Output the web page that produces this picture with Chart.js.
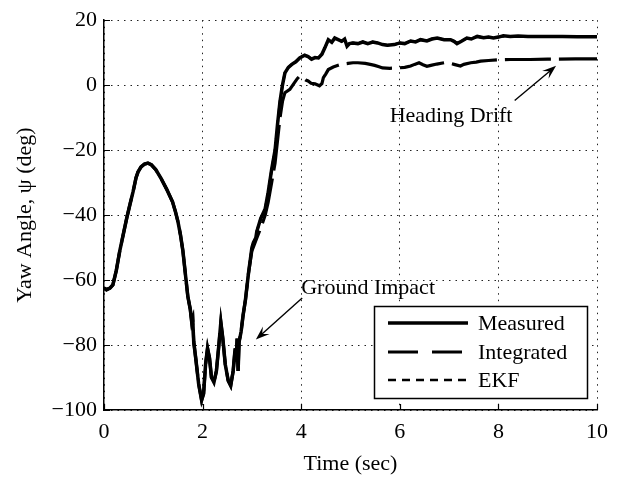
<!DOCTYPE html>
<html><head><meta charset="utf-8">
<script src="https://cdn.jsdelivr.net/npm/chart.js@4"></script>
<style>html,body{margin:0;padding:0;background:#fff}canvas{display:block}</style>
</head><body>
<canvas id="c" width="617" height="483"></canvas>
<script>
// ---- data ----
const timeMeasured = [0,0.05,0.12,0.18,0.25,0.32,0.39,0.46,0.53,0.59,0.65,0.69,0.75,0.82,0.89,0.96,1.05,1.16,1.27,1.39,1.45,1.5,1.55,1.6,1.65,1.7,1.75,1.78,1.8,1.82,1.86,1.92,1.98,2.02,2.06,2.1,2.14,2.18,2.23,2.28,2.33,2.37,2.41,2.46,2.52,2.57,2.62,2.66,2.68,2.7,2.72,2.74,2.78,2.82,2.87,2.93,3.0,3.03,3.08,3.1,3.18,3.27,3.33,3.4,3.47,3.52,3.57,3.62,3.67,3.74,3.81,3.89,3.97,4.07,4.14,4.21,4.28,4.35,4.42,4.48,4.55,4.62,4.68,4.75,4.82,4.88,4.93,4.98,5.05,5.15,5.25,5.35,5.45,5.55,5.65,5.75,5.89,6.0,6.1,6.22,6.32,6.42,6.55,6.65,6.76,6.9,7.03,7.1,7.16,7.25,7.36,7.45,7.57,7.7,7.8,7.9,8.0,8.1,8.24,8.4,8.6,8.8,9.0,9.3,9.6,10];
const yawMeasured = [-62.5,-63,-62.5,-61.5,-57,-51,-46,-41,-36.5,-32.8,-28.5,-26.7,-25.2,-24.3,-24,-24.5,-26,-28.8,-32,-35.9,-39,-42,-46,-51,-58,-65,-69,-73,-72,-79,-84,-92,-97,-95,-86,-81,-84,-90,-91.5,-88,-80,-73,-78,-86,-91,-92.5,-88,-81,-85,-78,-88,-79,-76,-71,-66,-58,-50,-48.5,-47,-45,-41,-38,-33,-26,-20,-12,-5,0,3.8,5.5,6.4,7.2,8.4,9.2,8.8,8,8.5,8.4,9.5,11.5,14,13.2,14.5,14,13.5,14.2,12,12.8,13,12.8,13.3,12.8,13.3,13,12.5,12.3,12.5,13,12.8,13.6,13.3,14,13.6,14.2,14.5,14,14,13.5,12.8,13.5,14.5,14.2,15,14.6,14.8,14.5,14.8,15.2,15,15.1,15,15,15,15,14.9,14.9];

const timeIntegrated = [0,0.05,0.12,0.18,0.25,0.32,0.39,0.46,0.53,0.59,0.65,0.69,0.75,0.82,0.89,0.96,1.05,1.16,1.27,1.39,1.45,1.5,1.55,1.6,1.65,1.7,1.75,1.78,1.8,1.82,1.86,1.92,1.98,2.02,2.06,2.1,2.14,2.18,2.23,2.28,2.33,2.37,2.41,2.46,2.52,2.57,2.62,2.66,2.68,2.7,2.72,2.74,2.78,2.82,2.87,2.93,3.0,3.05,3.1,3.18,3.27,3.33,3.4,3.47,3.52,3.57,3.62,3.67,3.77,3.85,3.92,3.97,4.03,4.09,4.14,4.2,4.28,4.37,4.42,4.45,4.5,4.55,4.65,4.75,4.81,4.95,5.05,5.15,5.3,5.4,5.49,5.58,5.65,5.8,5.96,6.1,6.22,6.3,6.39,6.47,6.55,6.63,6.75,6.9,7.0,7.1,7.23,7.3,7.44,7.55,7.64,7.8,8.0,8.24,8.64,9.0,9.56,10];
const yawIntegrated = [-62.5,-63,-62.5,-61.5,-57,-51,-46,-41,-36.5,-32.8,-28.5,-26.7,-25.2,-24.3,-24,-24.5,-26,-28.8,-32,-35.9,-39,-42,-46,-51,-58,-65,-69,-73,-72,-79,-84,-92,-97,-95,-86,-81,-84,-90,-91.5,-88,-80,-73,-78,-86,-91,-92.5,-88,-81,-85,-78,-88,-79,-76,-71,-66,-58,-51,-49,-47,-44,-40,-36,-30,-24,-17,-10,-5,-2.3,-1.3,0.5,2,2.8,2.2,1.6,1.3,0.6,0.4,-0.2,0.5,2.3,3.5,4.8,5.6,6.1,6.4,6.7,6.9,6.9,6.7,6.4,6.1,5.7,5.3,5.2,5.3,5.5,5.9,6.4,6.9,6.3,5.8,6.1,6.5,6.9,6.8,6.4,5.9,6.4,6.9,7.1,7.4,7.6,7.8,7.9,7.9,8.0,8.1,8.1];

const timeEKF = [0,0.05,0.12,0.18,0.25,0.32,0.39,0.46,0.53,0.59,0.65,0.69,0.75,0.82,0.89,0.96,1.05,1.16,1.27,1.39,1.45,1.5,1.55,1.6,1.65,1.7,1.75,1.78,1.8,1.82,1.86,1.92,1.98,2.02,2.06,2.1,2.14,2.18,2.23,2.28,2.33,2.37,2.41,2.46,2.52,2.57,2.62,2.66,2.68,2.7,2.72,2.74,2.78,2.82,2.87,2.93,3.0,3.03,3.08,3.1,3.18,3.27,3.33,3.4,3.47,3.52,3.57,3.62,3.67,3.74,3.81,3.89,3.97,4.07,4.14,4.21,4.28,4.35,4.42,4.48,4.55,4.62,4.68,4.75,4.82,4.88,4.93,4.98,5.05,5.15,5.25,5.35,5.45,5.55,5.65,5.75,5.89,6.0,6.1,6.22,6.32,6.42,6.55,6.65,6.76,6.9,7.03,7.1,7.16,7.25,7.36,7.45,7.57,7.7,7.8,7.9,8.0,8.1,8.24,8.4,8.6,8.8,9.0,9.3,9.6,10];
const yawEKF = [-62.3,-62.8,-62.4,-61.4,-57,-51,-46,-41,-36.5,-32.8,-28.5,-26.7,-25.2,-24.3,-24,-24.5,-26,-28.8,-32,-35.9,-39,-42,-46,-51,-58,-65,-69,-73,-72,-79,-84,-92,-96.5,-95,-86,-81.5,-84,-90,-91.2,-88,-80,-73.5,-78,-86,-91,-92,-88,-81,-84,-78.5,-86,-79,-76,-71,-66,-58,-50,-48.5,-47,-45,-41,-38,-33,-26,-20,-12,-5,0,3.8,5.5,6.4,7.2,8.4,9.2,8.8,8,8.5,8.4,9.5,11.5,13.8,13.2,14.3,14,13.5,14,12.3,12.8,13,12.8,13.3,12.8,13.3,13,12.5,12.3,12.5,13,12.8,13.6,13.3,14,13.6,14.2,14.5,14,14,13.5,13,13.5,14.5,14.2,15,14.6,14.8,14.5,14.8,15.1,15,15.1,15,15,15,15,14.9,14.9];

const xTicks = [0, 2, 4, 6, 8, 10];
const yTicks = [-100, -80, -60, -40, -20, 0, 20];
const seriesNames = ['Measured', 'Integrated', 'EKF'];
const xTitle = 'Time (sec)';
const yTitle = 'Yaw Angle, \u03C8 (deg)';
// annotations: [text, text x, text y, arrow tail x, tail y, arrow tip x, tip y] in data units
const annHeading = ['Heading Drift', 7.04, -9.6, 8.33, -4.7, 9.17, 5.95];
const annGround = ['Ground Impact', 4.0, -62.4, 4.02, -65.5, 3.08, -78.3];

const FONT = '"Liberation Serif", "Times New Roman", serif';
const pts = (xs, ys) => xs.map((x, i) => ({x: x, y: ys[i]}));
const fmt = v => (v < 0 ? '\u2212' + Math.abs(v) : String(v));

const insideTicks = {
  id: 'insideTicks',
  afterDraw(chart) {
    const {ctx, chartArea: a, scales: {x, y}} = chart;
    ctx.save();
    ctx.strokeStyle = '#000';
    ctx.lineWidth = 1.2;
    ctx.beginPath();
    xTicks.forEach(v => { const px = Math.round(x.getPixelForValue(v)) + 0.5; ctx.moveTo(px, a.bottom); ctx.lineTo(px, a.bottom - 6); });
    yTicks.forEach(v => { const py = Math.round(y.getPixelForValue(v)) + 0.5; ctx.moveTo(a.left, py); ctx.lineTo(a.left + 6, py); });
    ctx.stroke();
    ctx.restore();
  }
};

function arrow(ctx, x1, y1, x2, y2) {
  const ang = Math.atan2(y2 - y1, x2 - x1);
  const L = 14, W = 5;
  ctx.beginPath();
  ctx.moveTo(x1, y1);
  ctx.lineTo(x2 - Math.cos(ang) * 6, y2 - Math.sin(ang) * 6);
  ctx.stroke();
  ctx.beginPath();
  ctx.moveTo(x2, y2);
  ctx.lineTo(x2 - L * Math.cos(ang) + W * Math.sin(ang), y2 - L * Math.sin(ang) - W * Math.cos(ang));
  ctx.lineTo(x2 - 0.6 * L * Math.cos(ang), y2 - 0.6 * L * Math.sin(ang));
  ctx.lineTo(x2 - L * Math.cos(ang) - W * Math.sin(ang), y2 - L * Math.sin(ang) + W * Math.cos(ang));
  ctx.closePath();
  ctx.fill();
}

const annotations = {
  id: 'annotations',
  afterDraw(chart) {
    const {ctx, scales: {x, y}} = chart;
    ctx.save();
    ctx.fillStyle = '#000';
    ctx.strokeStyle = '#000';
    ctx.lineWidth = 1.4;
    ctx.font = '22px ' + FONT;
    ctx.textBaseline = 'middle';
    ctx.textAlign = 'center';
    ctx.fillText(annHeading[0], x.getPixelForValue(annHeading[1]), y.getPixelForValue(annHeading[2]));
    arrow(ctx, x.getPixelForValue(annHeading[3]), y.getPixelForValue(annHeading[4]), x.getPixelForValue(annHeading[5]), y.getPixelForValue(annHeading[6]));
    ctx.textAlign = 'left';
    ctx.fillText(annGround[0], x.getPixelForValue(annGround[1]), y.getPixelForValue(annGround[2]));
    arrow(ctx, x.getPixelForValue(annGround[3]), y.getPixelForValue(annGround[4]), x.getPixelForValue(annGround[5]), y.getPixelForValue(annGround[6]));
    ctx.restore();
  }
};

const boxLegend = {
  id: 'boxLegend',
  afterDraw(chart) {
    const {ctx} = chart;
    const bx = 374, by = 306, bw = 213, bh = 92;
    ctx.save();
    ctx.fillStyle = '#fff';
    ctx.fillRect(bx, by, bw, bh);
    ctx.strokeStyle = '#000';
    ctx.lineWidth = 1.5;
    ctx.strokeRect(bx + 0.5, by + 0.5, bw, bh);
    const rows = [323, 352, 380];
    chart.data.datasets.forEach((ds, i) => {
      ctx.setLineDash(ds.legendDash);
      ctx.lineWidth = ds.borderWidth;
      ctx.beginPath();
      ctx.moveTo(388, rows[i]);
      ctx.lineTo(468, rows[i]);
      ctx.stroke();
      ctx.setLineDash([]);
      ctx.fillStyle = '#000';
      ctx.font = '22px ' + FONT;
      ctx.textAlign = 'left';
      ctx.textBaseline = 'middle';
      ctx.fillText(ds.label, 478, rows[i] + 1);
    });
    ctx.restore();
  }
};

new Chart(document.getElementById('c'), {
  type: 'line',
  data: {
    datasets: [
      {label: seriesNames[0], data: pts(timeMeasured, yawMeasured), borderColor: '#000', borderWidth: 3.5, borderDash: [], legendDash: [], pointRadius: 0, tension: 0, order: 1},
      {label: seriesNames[1], data: pts(timeIntegrated, yawIntegrated), borderColor: '#000', borderWidth: 3.2, borderDash: [46, 8], legendDash: [30, 14], pointRadius: 0, tension: 0, order: 2},
      {label: seriesNames[2], data: pts(timeEKF, yawEKF), borderColor: '#000', borderWidth: 2.6, borderDash: [7, 5], legendDash: [8, 6], pointRadius: 0, tension: 0, order: 3}
    ]
  },
  options: {
    responsive: false,
    animation: false,
    devicePixelRatio: 1,
    layout: {padding: {left: 0, right: 16, top: 17, bottom: 0}},
    plugins: {legend: {display: false}, tooltip: {enabled: false}},
    scales: {
      x: {
        type: 'linear', min: 0, max: 10,
        afterBuildTicks: s => { s.ticks = xTicks.map(v => ({value: v})); },
        afterFit: s => { s.height = 73; },
        ticks: {callback: v => fmt(v), color: '#000', font: {family: FONT, size: 22}, padding: 9, maxRotation: 0},
        grid: {color: '#222', lineWidth: 1, drawTicks: false},
        border: {display: true, color: '#000', width: 1.5, dash: [1.5, 5]},
        title: {display: true, text: xTitle, color: '#000', font: {family: FONT, size: 22}, padding: {top: 0, bottom: 6}}
      },
      y: {
        type: 'linear', min: -100, max: 20,
        afterBuildTicks: s => { s.ticks = yTicks.map(v => ({value: v})); },
        afterFit: s => { s.width = 104; },
        ticks: {callback: v => fmt(v), color: '#000', font: {family: FONT, size: 22}, padding: 7},
        grid: {color: '#222', lineWidth: 1, drawTicks: false},
        border: {display: true, color: '#000', width: 1.5, dash: [1.5, 5]},
        title: {display: true, text: yTitle, color: '#000', font: {family: FONT, size: 22}, padding: {top: 12, bottom: 0}}
      }
    }
  },
  plugins: [insideTicks, annotations, boxLegend]
});
</script>
</body></html>
